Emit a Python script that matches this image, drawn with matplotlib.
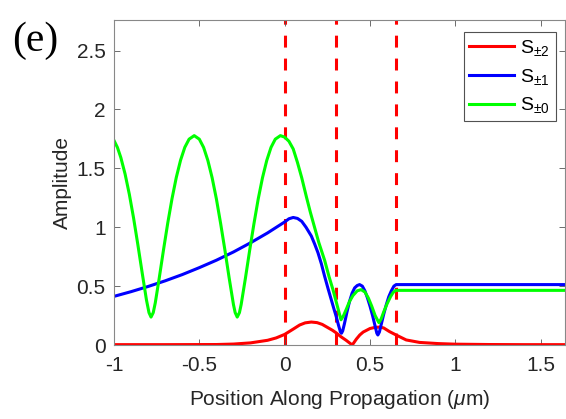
import matplotlib.pyplot as plt
import numpy as np

# S+-0 (green)
x_s0 = [-1.000, -0.980, -0.960, -0.935, -0.910, -0.885, -0.860, -0.835, -0.810, -0.795,
        -0.783, -0.770, -0.758, -0.735, -0.710, -0.685, -0.660, -0.635, -0.610, -0.585,
        -0.560, -0.530, -0.500, -0.475, -0.450, -0.425, -0.400, -0.375, -0.350, -0.325,
        -0.300, -0.290, -0.278, -0.265, -0.255, -0.230, -0.205, -0.180, -0.155, -0.130,
        -0.105, -0.080, -0.055, -0.025, 0.000, 0.025, 0.050, 0.075, 0.100, 0.127,
        0.150, 0.175, 0.200, 0.234, 0.260, 0.283, 0.305, 0.330, 0.345, 0.360,
        0.380, 0.400, 0.425, 0.448, 0.470, 0.490, 0.510, 0.530, 0.552, 0.565,
        0.580, 0.600, 0.620, 0.635, 0.650, 1.000, 1.650]
y_s0 = [1.737, 1.678, 1.592, 1.452, 1.279, 1.076, 0.850, 0.614, 0.384, 0.275,
        0.237, 0.275, 0.359, 0.568, 0.807, 1.036, 1.243, 1.423, 1.569, 1.679,
        1.748, 1.778, 1.748, 1.678, 1.567, 1.420, 1.240, 1.030, 0.805, 0.567,
        0.343, 0.275, 0.237, 0.275, 0.343, 0.567, 0.805, 1.030, 1.240, 1.420,
        1.567, 1.678, 1.748, 1.778, 1.765, 1.730, 1.665, 1.550, 1.420, 1.260,
        1.130, 1.000, 0.870, 0.720, 0.580, 0.470, 0.350, 0.214, 0.250, 0.300,
        0.370, 0.420, 0.460, 0.470, 0.450, 0.400, 0.330, 0.250, 0.190, 0.220,
        0.280, 0.350, 0.410, 0.445, 0.464, 0.464, 0.464]

# S+-1 (blue)
x_s1 = [-1.0, -0.9, -0.8, -0.7, -0.6, -0.5, -0.4, -0.3, -0.2, -0.1,
        0.000, 0.025, 0.050, 0.075, 0.100, 0.125, 0.156, 0.175, 0.195, 0.215,
        0.234, 0.255, 0.273, 0.290, 0.302, 0.315, 0.327, 0.333, 0.340, 0.350,
        0.365, 0.380, 0.395, 0.410, 0.425, 0.439, 0.455, 0.470, 0.485, 0.500,
        0.515, 0.530, 0.540, 0.546, 0.555, 0.565, 0.580, 0.595, 0.610, 0.625,
        0.640, 0.653, 1.000, 1.650]
y_s1 = [0.413, 0.453, 0.497, 0.545, 0.598, 0.657, 0.720, 0.790, 0.868, 0.952,
        1.045, 1.072, 1.083, 1.075, 1.050, 1.000, 0.926, 0.860, 0.784, 0.690,
        0.584, 0.475, 0.385, 0.300, 0.242, 0.170, 0.110, 0.100, 0.120, 0.180,
        0.280, 0.370, 0.440, 0.485, 0.505, 0.513, 0.500, 0.460, 0.400, 0.330,
        0.250, 0.160, 0.100, 0.085, 0.110, 0.170, 0.260, 0.340, 0.410, 0.460,
        0.500, 0.513, 0.513, 0.513]

# S+-2 (red)
x_s2 = [-1.0, -0.7, -0.4, -0.3, -0.2, -0.1, -0.05, 0.0, 0.05, 0.088,
        0.12, 0.156, 0.19, 0.22, 0.25, 0.28, 0.30, 0.33, 0.36, 0.396,
        0.42, 0.44, 0.46, 0.50, 0.53, 0.556, 0.58, 0.614, 0.653, 0.712,
        0.79, 0.90, 1.0, 1.2, 1.4, 1.65]
y_s2 = [0.003, 0.003, 0.004, 0.008, 0.018, 0.040, 0.060, 0.090, 0.135, 0.170,
        0.188, 0.195, 0.190, 0.175, 0.150, 0.125, 0.105, 0.070, 0.040, 0.000,
        0.050, 0.085, 0.110, 0.140, 0.150, 0.152, 0.145, 0.114, 0.085, 0.043,
        0.022, 0.012, 0.007, 0.004, 0.003, 0.003]

interfaces = [0.0, 0.3, 0.65]
labels = ['S$_{\\pm2}$', 'S$_{\\pm1}$', 'S$_{\\pm0}$']

plt.rcParams['font.family'] = ['Liberation Sans', 'DejaVu Sans']
plt.rcParams['mathtext.fontset'] = 'custom'
plt.rcParams['mathtext.rm'] = 'Liberation Sans'
plt.rcParams['mathtext.it'] = 'Liberation Sans:italic'

fig = plt.figure(figsize=(5.66, 4.19), dpi=100)
ax = fig.add_axes([0.2014, 0.1766, 0.7976, 0.7757])

tc = '#262626'
ax.plot(x_s2, y_s2, color=(1, 0, 0), lw=2.2, label=labels[0])
ax.plot(x_s1, y_s1, color=(0, 0, 1), lw=2.2, label=labels[1])
ax.plot(x_s0, y_s0, color=(0, 1, 0), lw=2.2, label=labels[2])
for xv in interfaces:
    ax.axvline(xv, color=(1, 0, 0), lw=2.2, dashes=(3.9, 3.6), zorder=1)

ax.set_xlim(-1, 1.645)
ax.set_ylim(0, 2.76)
ax.set_xticks([-1, -0.5, 0, 0.5, 1, 1.5])
ax.set_xticklabels(['-1', '-0.5', '0', '0.5', '1', '1.5'])
ax.set_yticks([0, 0.5, 1, 1.5, 2, 2.5])
ax.set_yticklabels(['0', '0.5', '1', '1.5', '2', '2.5'])
ax.tick_params(direction='in', top=True, right=True, length=4, width=0.6,
               colors='#555555', labelcolor=tc, labelsize=15)
ax.tick_params(axis='x', pad=8)
ax.tick_params(axis='y', pad=6)
for s in ax.spines.values():
    s.set_color('#888888')
    s.set_linewidth(0.8)

ax.set_xlabel('Position Along Propagation ($\\mu$m)', fontsize=15, color=tc, labelpad=9)
ax.set_ylabel('Amplitude', fontsize=15, color=tc, labelpad=3)

leg = ax.legend(loc='upper right', bbox_to_anchor=(0.978, 0.963), borderaxespad=0,
                fontsize=14, fancybox=False, edgecolor=tc, handlelength=2.3,
                labelspacing=0.45, handletextpad=0.3, borderpad=0.3)
leg.get_frame().set_linewidth(0.8)

fig.text(0.022, 0.902, '(e)', fontsize=30, family='Liberation Serif', va='center', ha='left')

fig.savefig('out.png', dpi=100)
